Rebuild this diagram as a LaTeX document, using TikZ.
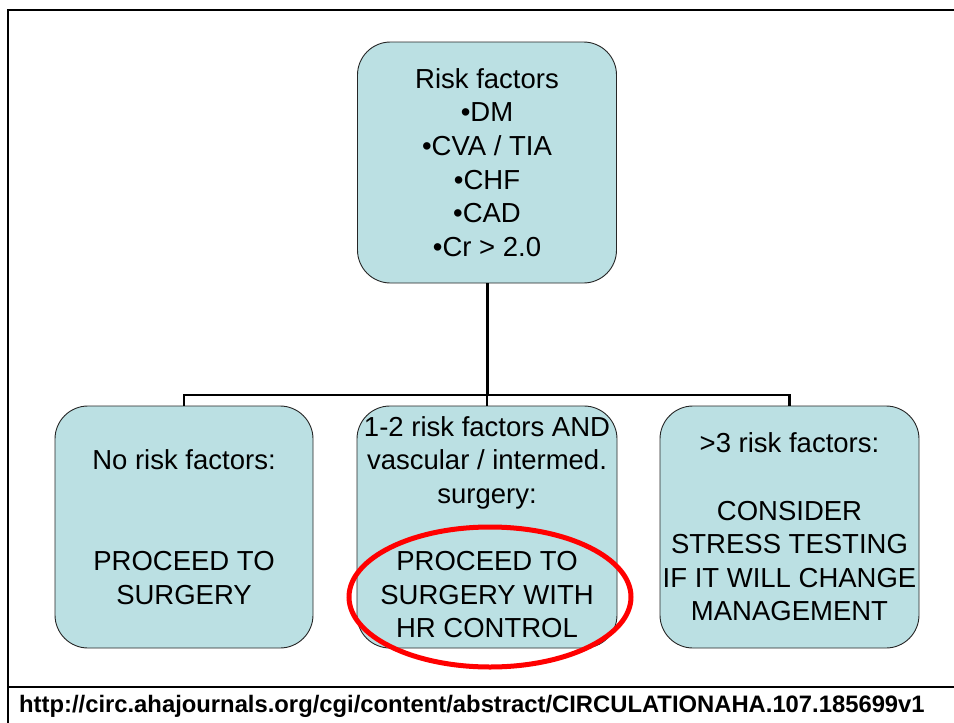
\documentclass[tikz,border=0pt]{standalone}
\usepackage{fontspec}
\setmainfont{Liberation Sans}
\usetikzlibrary{shapes.geometric}
\definecolor{boxfill}{HTML}{BBE0E3}
\tikzset{
  rbox/.style={draw=black!85, line width=0.9pt, fill=boxfill, rounded corners=33pt,
    inner sep=0pt, align=center, font=\fontsize{27.5}{33.6}\selectfont,
    minimum width=259pt, minimum height=242pt},
  conn/.style={draw=black, line width=2.2pt},
  frame/.style={draw=black, line width=2.5pt}
}
\begin{document}
\begin{tikzpicture}[x=1pt,y=-1pt]
\useasboundingbox (0,0) rectangle (954,723);
\fill[white] (0,0) rectangle (954,723);
% frame
\coordinate (ftl) at (8,10);
\coordinate (ftr) at (954,10);
\coordinate (fbl) at (8,723);
\coordinate (sl) at (8,687);
\coordinate (sr) at (954,687);
\draw[frame] (ftr) -- (ftl) -- (fbl);
\draw[frame] (sl) -- (sr);
% boxes
\node[rbox, minimum height=241pt] (top) at (487,162.5) {Risk factors\\ •DM\\ •CVA / TIA\\ •CHF\\ •CAD\\ •Cr > 2.0};
\node[rbox, minimum width=258pt] (left) at (184,527) {No risk factors:\\[67.2pt] PROCEED TO\\ SURGERY};
\node[rbox, minimum width=260pt] (mid) at (487,527) {1-2 risk factors AND\\ vascular / intermed.\\ surgery:\\[33.6pt] PROCEED TO\\ SURGERY WITH\\ HR CONTROL};
\node[rbox] (right) at (789.5,527) {>3 risk factors:\\[33.6pt] CONSIDER\\ STRESS TESTING\\ IF IT WILL CHANGE\\ MANAGEMENT};
% connectors
\coordinate (j) at (487,395);
\draw[conn, line width=3pt] (top.south) -- (j);
\draw[conn] (left.north) -- (left.north |- j) -- (right.north |- j) -- (right.north);
\draw[conn] (j) -- (mid.north);
% highlight ellipse
\node[ellipse, draw=red, line width=5pt, minimum width=282pt, minimum height=140pt, inner sep=0pt] (hl) at (490,597) {};
% url
\node[anchor=west, inner sep=0pt, font=\bfseries\fontsize{23.8}{26}\selectfont] (url) at (19,706) {http://circ.ahajournals.org/cgi/content/abstract/CIRCULATIONAHA.107.185699v1};
\end{tikzpicture}
\end{document}
